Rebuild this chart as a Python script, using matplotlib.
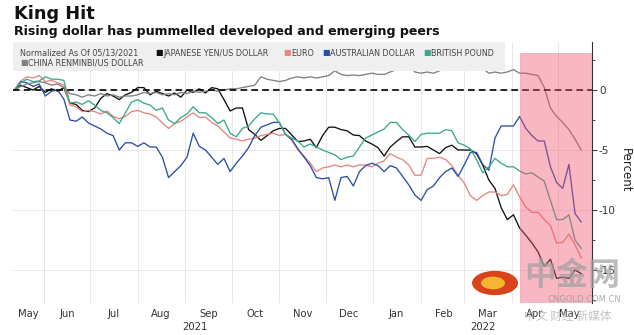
import numpy as np
import pandas as pd
import matplotlib
matplotlib.use("Agg")
import matplotlib.pyplot as plt
import matplotlib.transforms as mtransforms
from matplotlib.patches import Rectangle, Circle

plt.rcParams['font.family'] = ['DejaVu Sans', 'Noto Sans CJK SC']

# sample dates, every 4 days from the normalisation date
dates = pd.date_range('2021-05-13', periods=93, freq='4D')

jpy = [0, 0.4, 0.2, 0, 0.3, -0.2, 0.1, -0.1, 0.2, -1.1,
       -1.2, -1.7, -1.8, -1.5, -0.7, -0.3, -0.5, -0.8, -0.4, -0.2,
       0.2, 0.2, -0.4, -0.1, -0.3, -0.5, -0.25, -0.6, 0, -0.2,
       0.1, -0.25, 0.2, 0.1, -0.8, -1.75, -1.5, -1.5, -3.3, -3.7,
       -4.2, -3.8, -3.4, -3.2, -3.2, -3.75, -4.3, -4.25, -4.1, -4.8,
       -3.8, -3.1, -3.1, -3.3, -3.4, -3.75, -3.8, -4.25, -4.5, -4.8,
       -5.5, -4.75, -4.3, -3.9, -3.9, -4.75, -4.75, -4.7, -5.0, -5.3,
       -4.8, -4.6, -5.0, -5.0, -5.0, -5.3, -6.25, -7.5, -8.2, -9.8,
       -10.8, -10.4, -11.5, -12.1, -12.75, -13.5, -14.7, -14.1, -15.7, -15.6,
       -15.7, -15.0, -15.3]

eur = [0, 0.75, 1.1, 1.0, 1.2, 0.7, 0.8, 0.6, 0.4, -1.25,
       -1.4, -1.8, -1.7, -1.8, -2.0, -1.75, -2.2, -2.4, -2.2, -1.8,
       -1.7, -1.9, -2.0, -2.25, -2.75, -3.2, -2.8, -2.6, -2.25, -1.9,
       -2.3, -2.25, -2.7, -3.0, -3.5, -4.0, -4.1, -4.25, -4.1, -4.0,
       -3.8, -3.7, -3.6, -3.8, -3.7, -4.2, -5.0, -5.5, -6.1, -6.8,
       -6.5, -6.4, -6.25, -6.4, -6.25, -6.4, -6.25, -6.25, -6.4, -6.1,
       -5.9, -5.3, -5.6, -5.8, -6.25, -7.1, -7.1, -5.7, -5.7, -5.6,
       -5.8, -6.3, -7.1, -7.75, -8.8, -9.2, -8.8, -8.5, -8.5, -8.8,
       -8.7, -7.9, -8.9, -9.75, -10.2, -10.2, -10.8, -11.3, -12.75, -12.7,
       -12.0, -12.9, -14.0]

aud = [0, 0.7, 0.6, 0.3, 0.5, -0.5, -0.1, 0, -0.75, -2.5,
       -2.6, -2.25, -2.75, -3.0, -3.25, -3.6, -3.8, -5.0, -4.4, -4.4,
       -4.7, -4.4, -4.75, -4.75, -5.6, -7.3, -6.8, -6.3, -5.6, -3.6,
       -4.7, -5.0, -5.6, -6.2, -5.7, -6.8, -6.1, -5.5, -4.8, -3.8,
       -3.1, -2.9, -2.7, -2.7, -3.7, -4.1, -4.9, -5.6, -6.3, -7.3,
       -7.4, -7.3, -9.2, -7.3, -7.2, -8.0, -6.8, -6.3, -6.1, -6.3,
       -6.8, -6.3, -6.5, -7.2, -7.9, -8.75, -9.2, -8.3, -8.0, -7.3,
       -6.8, -6.5, -7.2, -6.25, -5.2, -5.2, -6.2, -6.7, -4.0, -3.0,
       -3.0, -3.0, -2.2, -3.2, -3.8, -4.25, -4.25, -6.4, -7.7, -8.2,
       -6.2, -10.3, -11.0]

gbp = [0, 0.6, 0.9, 0.7, 0.75, 1.1, 0.9, 0.9, 0.8, -1.1,
       -1.0, -1.2, -0.9, -1.25, -1.7, -1.9, -2.3, -2.8, -1.9, -1.0,
       -0.8, -1.1, -1.25, -1.7, -1.5, -2.5, -2.8, -2.3, -2.0, -1.4,
       -1.9, -1.9, -2.3, -2.8, -2.5, -3.6, -3.9, -3.2, -3.0, -2.4,
       -1.9, -2.0, -2.0, -2.75, -3.7, -4.0, -4.25, -4.75, -4.5, -4.75,
       -5.0, -5.2, -5.4, -5.8, -5.6, -5.5, -4.75, -4.0, -3.75, -3.5,
       -3.25, -2.7, -2.7, -3.3, -3.75, -4.3, -3.7, -3.6, -3.6, -3.6,
       -3.3, -3.4, -4.4, -4.6, -4.9, -5.8, -6.9, -6.4, -5.7, -6.1,
       -6.4, -6.4, -6.75, -7.0, -6.9, -7.25, -7.6, -9.2, -10.8, -10.8,
       -10.4, -12.5, -13.2]

cny = [0, 0.3, 0.5, 0.6, 0.7, 0.6, 0.4, 0.5, 0.2, -0.3,
       -0.4, -0.6, -0.4, -0.5, -0.3, -0.5, -0.4, -0.6, -0.5, -0.5,
       -0.4, -0.2, -0.3, -0.2, -0.4, -0.3, -0.4, -0.2, -0.3, -0.1,
       -0.2, -0.1, 0.0, -0.1, 0.0, 0.1, 0.1, 0.2, 0.3, 0.4,
       1.1, 0.9, 0.8, 0.7, 0.8, 1.0, 1.1, 1.0, 1.1, 1.0,
       1.1, 1.2, 1.6, 1.3, 1.2, 1.25, 1.2, 1.3, 1.4, 1.3,
       1.3, 1.5, 1.7, 1.9, 2.1, 1.5, 1.4, 1.5, 1.4, 1.6,
       1.8, 2.0, 2.2, 2.2, 2.0, 1.7, 1.8, 1.4, 1.5, 1.4,
       1.5, 1.7, 1.4, 1.4, 1.3, 1.2, 0.2, -1.5, -2.2, -2.7,
       -3.3, -4.1, -5.0]

names = ['JAPANESE YEN/US DOLLAR', 'EURO', 'AUSTRALIAN DOLLAR',
         'BRITISH POUND', 'CHINA RENMINBI/US DOLLAR']
colors = ['#111111', '#e8857f', '#2b4ea6', '#3aa98a', '#808080']

shade_start = pd.Timestamp('2022-04-06')
month_starts = pd.date_range('2021-06-01', '2022-05-01', freq='MS')
month_label_dates = [pd.Timestamp('2021-05-22')] + \
    [d + pd.Timedelta(days=15) for d in month_starts[:-1]] + [pd.Timestamp('2022-05-08')]
month_labels = ['May', 'Jun', 'Jul', 'Aug', 'Sep', 'Oct', 'Nov', 'Dec',
                'Jan', 'Feb', 'Mar', 'Apr', 'May']

W, H = 634, 335
fig = plt.figure(figsize=(W / 100, H / 100), dpi=100)
ax = fig.add_axes([13 / W, 1 - 303 / H, (592 - 13) / W, (303 - 42) / H])

def px(x, y):
    return x / W, 1 - y / H

# legend background
fig.patches.append(Rectangle(px(13, 71), (505 - 13) / W, 29 / H,
                             transform=fig.transFigure, facecolor='#efefef',
                             edgecolor='none', zorder=0))
ax.set_facecolor('none')

for vals, c in zip([jpy, eur, aud, gbp, cny], colors):
    ax.plot(dates, vals, color=c, lw=0.95, zorder=3)

ax.axhline(0, color='black', lw=1.2, ls=(0, (4, 2.5)), zorder=4)

xmin, xmax = pd.Timestamp('2021-05-12'), pd.Timestamp('2022-05-23')
ymin, ymax = -17.75, 4.0
ax.set_xlim(xmin, xmax)
ax.set_ylim(ymin, ymax)

ax.add_patch(Rectangle((matplotlib.dates.date2num(shade_start), ymin),
                       matplotlib.dates.date2num(xmax) - matplotlib.dates.date2num(shade_start),
                       3.1 - ymin, facecolor='#f25570', alpha=0.42,
                       edgecolor='#e56a7c', lw=0.6, zorder=5))

# axes styling
for s in ['top', 'left', 'bottom']:
    ax.spines[s].set_visible(False)
ax.spines['right'].set_color('#333333')
ax.spines['right'].set_linewidth(0.8)

ax.yaxis.tick_right()
ax.set_yticks([0, -5, -10, -15])
ax.set_yticklabels(['0', '-5', '-10', '-15'])
ax.set_yticks([2.5, -2.5, -7.5, -12.5, -17.5], minor=True)
ax.tick_params(axis='y', which='major', length=3.5, width=0.7, pad=1.5,
               labelsize=7.5, colors='#333333')
ax.tick_params(axis='y', which='minor', length=2, width=0.6, colors='#333333')
ax.grid(axis='y', which='major', color='#e8e8e8', lw=0.7, zorder=0)

ax.set_xticks(month_starts)
ax.set_xticklabels([])
ax.set_xticks(month_label_dates, minor=True)
ax.set_xticklabels(month_labels, minor=True)
ax.tick_params(axis='x', which='both', length=0)
ax.tick_params(axis='x', which='minor', pad=4, labelsize=7.2, colors='#333333')
ax.grid(axis='x', which='major', color='#e8e8e8', lw=0.7, zorder=0)

trans = mtransforms.blended_transform_factory(ax.transData, fig.transFigure)
ax.text(pd.Timestamp('2021-09-07'), 1 - 327 / H, '2021', transform=trans,
        ha='center', va='center', fontsize=7.2, color='#333333')
ax.text(pd.Timestamp('2022-03-13'), 1 - 327 / H, '2022', transform=trans,
        ha='center', va='center', fontsize=7.2, color='#333333')

fig.text(*px(625, 170), 'Percent', rotation=270, ha='center', va='center',
         fontsize=8.5, color='#222222')

# titles
fig.text(*px(14, 14), 'King Hit', fontsize=12.8, fontweight='bold',
         ha='left', va='center', color='#111111')
fig.text(*px(14, 32), 'Rising dollar has pummelled developed and emerging peers',
         fontsize=9.1, fontweight='bold', ha='left', va='center', color='#111111')

# legend text
fig.text(*px(20, 53), 'Normalized As Of 05/13/2021', fontsize=5.8,
         ha='left', va='center', color='#444444')
leg_pos = [(155, 53), (283, 53), (322, 53), (423, 53), (20, 63)]
for (lx, ly), name, c in zip(leg_pos, names, colors):
    fig.text(*px(lx, ly), '\u25a0', fontsize=5.8, ha='left', va='center', color=c)
    fig.text(*px(lx + 8, ly), name, fontsize=5.8, ha='left', va='center',
             color='#444444')

# watermark
fig.patches.append(Circle(px(495, 283), 23 / W, transform=fig.transFigure,
                          facecolor='#d8431c', edgecolor='none', zorder=10))
fig.patches.append(Circle(px(493, 283), 12 / W, transform=fig.transFigure,
                          facecolor='#f6b631', edgecolor='none', zorder=11))
fig.text(*px(572, 276), '中金网', family=['Noto Sans CJK SC', 'DejaVu Sans'],
         fontsize=23, fontweight='bold', ha='center', va='center',
         color='#a0a0a0', alpha=0.7, zorder=12)
fig.text(*px(584, 299), 'CNGOLD.COM.CN', fontsize=6, ha='center', va='center',
         color='#999999', alpha=0.8, zorder=12)
fig.text(*px(568, 316), '中文 财经 新媒体', family=['Noto Sans CJK SC', 'DejaVu Sans'],
         fontsize=8.5, ha='center', va='center', color='#aaaaaa', alpha=0.7,
         zorder=12)

fig.savefig('out.png', dpi=100)
